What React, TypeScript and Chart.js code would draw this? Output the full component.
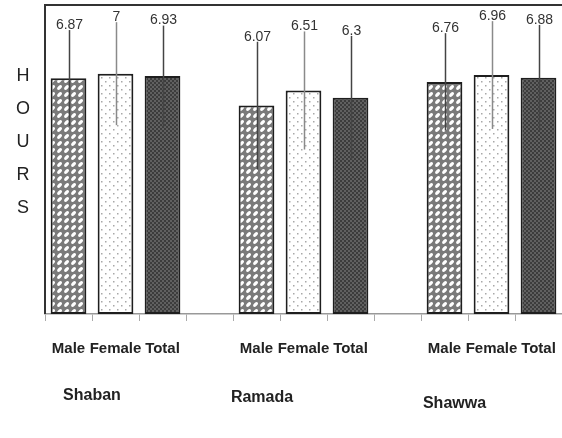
import React, { useEffect, useRef } from "react";
import { Chart, registerables } from "chart.js";

Chart.register(...registerables);

const groups = ["Shaban", "Ramada", "Shawwa"];
const genders = ["Male", "Female", "Total"];
const shabanValues = [6.87, 7, 6.93];
const ramadaValues = [6.07, 6.51, 6.3];
const shawwaValues = [6.76, 6.96, 6.88];
const shabanErrors = [1.4, 1.5, 1.47];
const ramadaErrors = [1.86, 1.72, 1.8];
const shawwaErrors = [1.42, 1.57, 1.54];
const valueLabels = ["6.87", "7", "6.93", "", "6.07", "6.51", "6.3", "", "6.76", "6.96", "6.88"];
const axisLetters = ["H", "O", "U", "R", "S"];

const FONT = "'Liberation Sans', Arial, sans-serif";

function makePattern(kind: string): CanvasPattern | string {
  const c = document.createElement("canvas");
  const ctx = c.getContext("2d");
  if (!ctx) return "#888";
  if (kind === "male") {
    c.width = 7;
    c.height = 7;
    ctx.fillStyle = "#7a7a7a";
    ctx.fillRect(0, 0, 7, 7);
    ctx.fillStyle = "#ffffff";
    ctx.beginPath();
    ctx.ellipse(3.5, 3.5, 3.0, 1.6, -Math.PI / 4, 0, Math.PI * 2);
    ctx.fill();
  } else if (kind === "female") {
    c.width = 8;
    c.height = 8;
    ctx.fillStyle = "#ffffff";
    ctx.fillRect(0, 0, 8, 8);
    ctx.fillStyle = "#a8a8a8";
    ctx.fillRect(1, 1, 1.5, 1.5);
    ctx.fillRect(5, 5, 1.5, 1.5);
  } else {
    c.width = 4;
    c.height = 4;
    ctx.fillStyle = "#606060";
    ctx.fillRect(0, 0, 4, 4);
    ctx.fillStyle = "#3c3c3c";
    ctx.fillRect(0, 0, 2, 2);
    ctx.fillRect(2, 2, 2, 2);
  }
  const p = ctx.createPattern(c, "repeat");
  return p || "#888";
}

export default function App() {
  const ref = useRef<HTMLCanvasElement>(null);

  useEffect(() => {
    if (!ref.current) return;
    const labels: string[] = [];
    const values: (number | null)[] = [];
    const errors: (number | null)[] = [];
    const kinds: string[] = [];
    const groupVals = [shabanValues, ramadaValues, shawwaValues];
    const groupErrs = [shabanErrors, ramadaErrors, shawwaErrors];
    groups.forEach((g, gi) => {
      genders.forEach((gd, i) => {
        labels.push(gd);
        values.push(groupVals[gi][i]);
        errors.push(groupErrs[gi][i]);
        kinds.push(i === 0 ? "male" : i === 1 ? "female" : "total");
      });
      if (gi < groups.length - 1) {
        labels.push("");
        values.push(null);
        errors.push(null);
        kinds.push("none");
      }
    });
    const patterns = kinds.map((k) => (k === "none" ? "transparent" : makePattern(k)));

    const overlay = {
      id: "overlay",
      afterDatasetsDraw(chart: any) {
        const ctx = chart.ctx;
        const xs = chart.scales.x;
        const ys = chart.scales.y;
        const area = chart.chartArea;
        ctx.save();
        values.forEach((v, i) => {
          if (v === null) return;
          const e = errors[i] as number;
          const x = xs.getPixelForValue(i) + 1;
          const yt = ys.getPixelForValue(v + e);
          const yb = ys.getPixelForValue(v - e);
          ctx.strokeStyle = kinds[i] === "female" ? "#8a8a8a" : "#444";
          ctx.lineWidth = 1.5;
          ctx.beginPath();
          ctx.moveTo(x, yt);
          ctx.lineTo(x, yb);
          ctx.stroke();
          ctx.fillStyle = "#333";
          ctx.font = `14px ${FONT}`;
          ctx.textAlign = "center";
          ctx.textBaseline = "bottom";
          ctx.fillText(valueLabels[i], x, yt + 2);
        });
        ctx.strokeStyle = "#333";
        ctx.lineWidth = 2;
        ctx.beginPath();
        ctx.moveTo(area.left, area.bottom);
        ctx.lineTo(area.left, area.top);
        ctx.lineTo(area.right, area.top);
        ctx.stroke();
        ctx.fillStyle = "#222";
        ctx.font = `18px ${FONT}`;
        ctx.textAlign = "center";
        ctx.textBaseline = "middle";
        axisLetters.forEach((l, i) => {
          ctx.fillText(l, 23, 76 + i * 33);
        });
        ctx.font = `bold 16px ${FONT}`;
        ctx.fillStyle = "#222";
        const offsets = [[0, 23.5, 396], [4, 5.5, 398], [8, 10, 404]];
        groups.forEach((g, gi) => {
          const [idx, dx, y] = offsets[gi];
          const x = xs.getPixelForValue(idx) + dx;
          ctx.fillText(g, x, y);
        });
        ctx.restore();
      },
    };

    const chart = new Chart(ref.current, {
      type: "bar",
      data: {
        labels,
        datasets: [
          {
            data: values,
            backgroundColor: patterns as any,
            borderColor: "#1e1e1e",
            borderWidth: 2,
            borderSkipped: false,
            categoryPercentage: 1,
            barPercentage: 0.76,
          },
        ],
      },
      options: {
        animation: false,
        responsive: false,
        maintainAspectRatio: false,
        layout: { padding: { left: 45, top: 5, right: 0, bottom: 0 } },
        plugins: { legend: { display: false }, tooltip: { enabled: false } },
        scales: {
          x: {
            grid: { offset: true, drawOnChartArea: false, drawTicks: true, tickLength: 7, color: "#aaa" },
            border: { color: "#999", width: 1.5 },
            ticks: {
              font: { family: FONT, size: 15, weight: "bold" },
              color: "#222",
              padding: 19,
              autoSkip: false,
              maxRotation: 0,
            },
            afterFit: (s: any) => {
              s.height = 124;
              s.paddingLeft = 0;
              s.paddingRight = 0;
            },
          },
          y: { display: false, min: 0, max: 9 },
        },
      },
      plugins: [overlay],
    });
    return () => chart.destroy();
  }, []);

  return (
    <div style={{ position: "absolute", left: 0, top: 0, width: 562, height: 438, background: "#fff" }}>
      <canvas ref={ref} width={562} height={438} style={{ width: 562, height: 438 }} />
    </div>
  );
}
